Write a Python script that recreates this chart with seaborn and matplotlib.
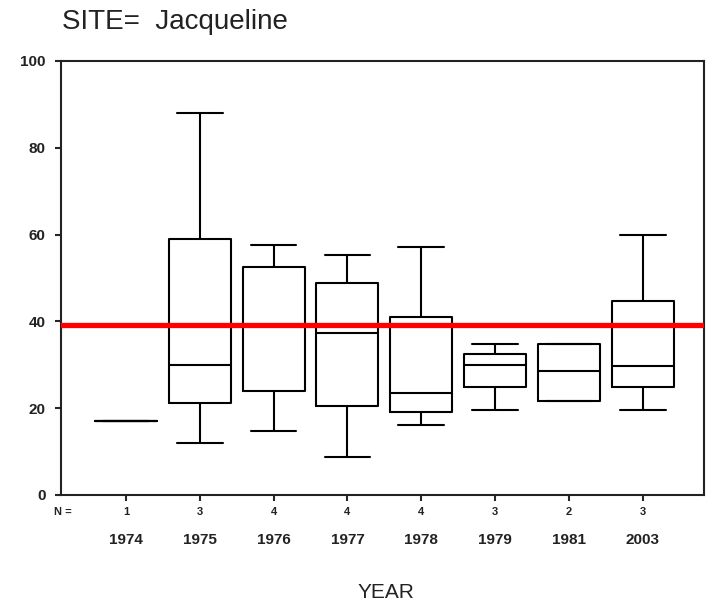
import numpy as np
import pandas as pd
import matplotlib
matplotlib.use("Agg")
import matplotlib.pyplot as plt
import matplotlib.transforms as mtransforms
import seaborn as sns

# Five-number summaries per year (whisker low, lower hinge, median, upper hinge, whisker high)
years = ["1974", "1975", "1976", "1977", "1978", "1979", "1981", "2003"]
counts = [1, 3, 4, 4, 4, 3, 2, 3]
whisk_low = [17.0, 12.0, 14.7, 8.8, 16.1, 19.7, 21.7, 19.7]
hinge_low = [17.0, 21.1, 23.9, 20.6, 19.2, 24.8, 21.7, 24.8]
medians = [17.0, 30.0, 39.0, 37.3, 23.4, 29.9, 28.6, 29.8]
hinge_high = [17.0, 58.9, 52.5, 48.8, 40.9, 32.6, 34.9, 44.6]
whisk_high = [17.0, 88.1, 57.5, 55.2, 57.1, 34.9, 34.9, 59.8]
reference_level = 39.2
yticks = [0, 20, 40, 60, 80, 100]

# Long-form table: five values per year reproduce the summaries exactly
rows = []
for i, yr in enumerate(years):
    for v in (whisk_low[i], hinge_low[i], medians[i], hinge_high[i], whisk_high[i]):
        rows.append({"YEAR": yr, "value": v})
df = pd.DataFrame(rows)

sns.set_style("ticks")
plt.rcParams["font.family"] = ["Liberation Sans", "DejaVu Sans"]

fig = plt.figure(figsize=(7.09, 6.05), dpi=100)
ax = fig.add_axes([61 / 709, 110 / 605, 643 / 709, 434 / 605])

sns.boxplot(
    data=df, x="YEAR", y="value", order=years, ax=ax,
    fill=False, color="black", linecolor="black", linewidth=1.5,
    width=0.84, whis=(0, 100), capwidths=0.62,
)

ax.axhline(reference_level, color="#ff0000", linewidth=3.8, zorder=5)

ax.set_xlim(-0.88, 7.83)
ax.set_ylim(0, 100)
ax.set_yticks(yticks)
ax.set_yticklabels([str(t) for t in yticks], fontsize=11, fontweight="bold", color="#222222")
ax.tick_params(axis="y", length=4, width=1.5, pad=7, direction="out", left=True)
ax.tick_params(axis="x", length=4, width=1.5, direction="out", bottom=True)
ax.set_xticks(range(len(years)))
ax.set_xticklabels([""] * len(years))
ax.set_ylabel("")

for side in ("left", "right", "top", "bottom"):
    ax.spines[side].set_visible(True)
    ax.spines[side].set_linewidth(1.5)
    ax.spines[side].set_color("#222222")

# Count row and year row beneath the axis
trans = mtransforms.blended_transform_factory(ax.transData, ax.transAxes)
for i, (yr, n) in enumerate(zip(years, counts)):
    ax.text(i, -0.039, str(n), transform=trans, ha="center", va="center",
            fontsize=8, fontweight="bold", color="#222222")
    ax.text(i, -0.104, yr, transform=trans, ha="center", va="center",
            fontsize=11, fontweight="bold", color="#222222")
ax.text(0.017, -0.039, "N =", transform=ax.transAxes, ha="right", va="center",
        fontsize=8, fontweight="bold", color="#222222")

ax.set_xlabel("YEAR", fontsize=15, color="#222222")
ax.xaxis.set_label_coords((386 - 61) / 643, (495 - 592) / 434)
ax.xaxis.label.set_va("center")

fig.text(62 / 709, 1 - 22 / 605, "SITE=  Jacqueline", fontsize=20,
         ha="left", va="center", color="#222222")

fig.savefig("out.png", dpi=100)
